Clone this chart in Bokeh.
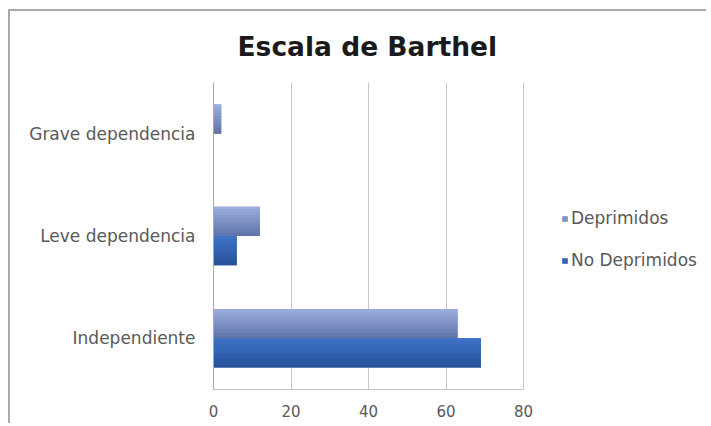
from bokeh.plotting import figure
from bokeh.models import Range1d, FactorRange, Legend, LegendItem, FixedTicker, ColumnDataSource
from bokeh.transform import dodge
from bokeh.embed import file_html
from bokeh.resources import INLINE

# ---- data ----
categories = ["Independiente", "Leve dependencia", "Grave dependencia"]
deprimidos = [63, 12, 2]
no_deprimidos = [69, 6, 0]
x_ticks = [0, 20, 40, 60, 80]
series_names = ["Deprimidos", "No Deprimidos"]

source = ColumnDataSource(dict(cat=categories, dep=deprimidos, nodep=no_deprimidos))

# frame is widened to the right so the legend can sit inside it; the value axis
# itself (line, grid, ticks) is bounded to 0..80
W, H = 698, 414
left_b, right_b = 203, 5
frame_w = W - left_b - right_b
axis_px = 310  # pixel length of the 0..80 value axis
x_end = x_ticks[-1] * frame_w / axis_px

p = figure(width=W, height=H,
           y_range=FactorRange(*categories), x_range=Range1d(0, x_end),
           output_backend="svg", toolbar_location=None,
           min_border_left=left_b, min_border_right=right_b,
           min_border_top=71, min_border_bottom=36,
           title="Escala de Barthel")

p.styles = {"border-top": "2px solid #a9a9a9", "border-left": "2px solid #a9a9a9",
            "margin-left": "8px", "margin-top": "9px"}

p.title.align = "left"
p.title.vertical_align = "top"
p.title.offset = 24
p.title.text_font = "DejaVu Sans"
p.title.text_font_size = "26.5px"
p.title.text_font_style = "bold"
p.title.text_color = "#1a1a1a"
p.title.standoff = 38

p.outline_line_color = None
p.background_fill_color = "white"
p.border_fill_color = "white"

p.xgrid.grid_line_color = "#c8c8c8"
p.ygrid.grid_line_color = None
p.xaxis.ticker = FixedTicker(ticks=x_ticks)
p.xaxis.bounds = (x_ticks[0], x_ticks[-1])
p.xaxis.axis_line_color = "#c4c4c4"
p.xaxis.major_tick_line_color = None
p.xaxis.minor_tick_line_color = None
p.xaxis.major_tick_out = 0
p.xaxis.major_tick_in = 0
p.xaxis.major_label_standoff = 15
p.xaxis.major_label_text_font = "DejaVu Sans"
p.xaxis.major_label_text_font_size = "15px"
p.xaxis.major_label_text_color = "#595959"

p.yaxis.axis_line_color = "#a8a8a8"
p.yaxis.major_tick_line_color = None
p.yaxis.minor_tick_line_color = None
p.yaxis.major_tick_out = 0
p.yaxis.major_tick_in = 0
p.yaxis.major_label_standoff = 18
p.yaxis.major_label_text_font = "DejaVu Sans"
p.yaxis.major_label_text_font_size = "17px"
p.yaxis.major_label_text_color = "#595959"


def hex2rgb(h):
    h = h.lstrip("#")
    return tuple(int(h[i:i + 2], 16) for i in (0, 2, 4))


def blend(c1, c2, t):
    a, b = hex2rgb(c1), hex2rgb(c2)
    return "#%02x%02x%02x" % tuple(round(a[i] + (b[i] - a[i]) * t) for i in range(3))


bar_h = 0.285
n_strips = 10
strip_h = bar_h / n_strips
series_cfg = [
    ("dep", +bar_h / 2, "#9aacdc", "#6275aa"),
    ("nodep", -bar_h / 2, "#3e72c6", "#27529a"),
]
legend_renderers = []
for col, center, c_top, c_bot in series_cfg:
    base = p.hbar(y=dodge("cat", center, range=p.y_range), right=col, left=0,
                  height=bar_h, source=source,
                  fill_color=blend(c_top, c_bot, 0.5), line_color=None)
    legend_renderers.append(base)
    for i in range(n_strips):
        off = center + bar_h / 2 - (i + 0.5) * strip_h
        col_i = blend(c_top, c_bot, i / (n_strips - 1))
        p.hbar(y=dodge("cat", off, range=p.y_range), right=col, left=0,
               height=strip_h, source=source,
               fill_color=col_i, line_color=None)

legend = Legend(items=[LegendItem(label=series_names[0], renderers=[legend_renderers[0]]),
                       LegendItem(label=series_names[1], renderers=[legend_renderers[1]])],
                location=(348, 119))
legend.padding = 0
legend.margin = 0
legend.spacing = 22
legend.label_height = 20
legend.glyph_height = 7
legend.glyph_width = 7
legend.label_standoff = 3
legend.border_line_color = None
legend.background_fill_alpha = 0
legend.label_text_font = "DejaVu Sans"
legend.label_text_font_size = "17px"
legend.label_text_color = "#595959"
p.add_layout(legend, "center")

open("out.html", "w").write(file_html(p, INLINE))
